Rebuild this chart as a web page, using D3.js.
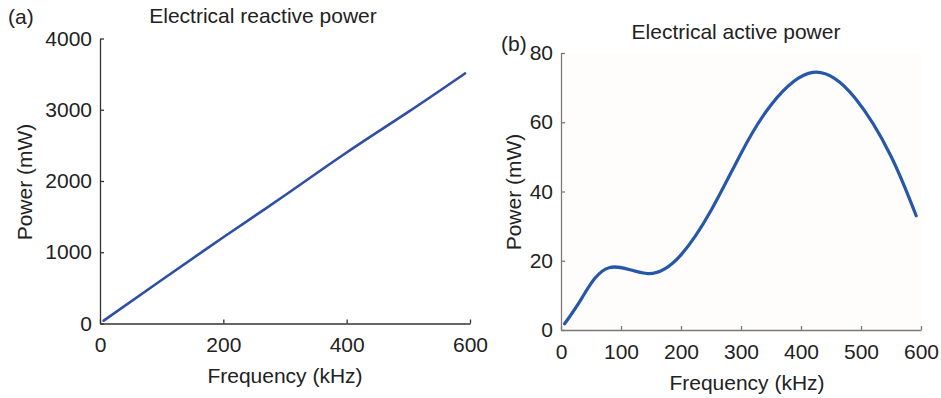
<!DOCTYPE html>
<html>
<head>
<meta charset="utf-8">
<script src="https://cdn.jsdelivr.net/npm/d3@7"></script>
<style>
  body { margin: 0; background: #fff; }
  text { font-family: "Liberation Sans", Arial, sans-serif; fill: #222; }
</style>
</head>
<body>
<script>
// panel (a): reactive power
var freqA = [6, 100, 200, 300, 400, 500, 592];
var powerA = [40, 610, 1210, 1800, 2400, 2970, 3510];
var xTicksA = [0, 200, 400, 600];
var yTicksA = [0, 1000, 2000, 3000, 4000];

// panel (b): active power
var freqB = [6, 35, 80, 145, 200, 250, 300, 350, 420, 490, 550, 592];
var powerB = [1.8, 9.3, 18.0, 16.3, 21.7, 34.5, 51, 65, 74.4, 67, 50.2, 33];
var xTicksB = [0, 100, 200, 300, 400, 500, 600];
var yTicksB = [0, 20, 40, 60, 80];

var svg = d3.select("body").append("svg")
	.attr("width", 941)
	.attr("height", 398);

function drawPanel(opt) {
	var x = d3.scaleLinear().domain([0, 600]).range(opt.xr);
	var y = d3.scaleLinear().domain(opt.ydom).range(opt.yr);
	var g = svg.append("g");

	if (opt.bg) {
		g.append("rect")
			.attr("x", opt.xr[0]).attr("y", opt.yr[1])
			.attr("width", opt.xr[1] - opt.xr[0])
			.attr("height", opt.yr[0] - opt.yr[1])
			.attr("fill", opt.bg);
	}

	// x axis, ticks pointing inward
	var xa = g.append("g")
		.attr("transform", "translate(0," + opt.yr[0] + ")")
		.call(d3.axisBottom(x).tickValues(opt.xticks).tickFormat(d3.format("d"))
			.tickSizeInner(-4).tickSizeOuter(0).tickPadding(9));
	var ya = g.append("g")
		.attr("transform", "translate(" + opt.xr[0] + ",0)")
		.call(d3.axisLeft(y).tickValues(opt.yticks).tickFormat(d3.format("d"))
			.tickSizeInner(-4).tickSizeOuter(0).tickPadding(8));

	[xa, ya].forEach(function(a) {
		a.select(".domain").attr("stroke", opt.axisColor).attr("stroke-width", 1.3);
		a.selectAll(".tick line").attr("stroke", opt.axisColor).attr("stroke-width", 1.3);
		a.selectAll(".tick text")
			.attr("font-size", 21)
			.attr("font-family", "Liberation Sans, Arial, sans-serif")
			.attr("fill", "#222");
	});
	xa.selectAll(".tick text").attr("dy", "0.95em");

	var line = d3.line()
		.x(function(d) { return x(d[0]); })
		.y(function(d) { return y(d[1]); })
		.curve(d3.curveNatural);

	g.append("path")
		.datum(d3.zip(opt.freq, opt.power))
		.attr("fill", "none")
		.attr("stroke", opt.lineColor)
		.attr("stroke-width", opt.lineWidth)
		.attr("stroke-linecap", "round")
		.attr("d", line);

	g.append("text")
		.attr("x", opt.title[0]).attr("y", opt.title[1])
		.attr("text-anchor", "middle")
		.attr("font-size", 21)
		.text(opt.titleText);

	g.append("text")
		.attr("x", opt.xlab[0]).attr("y", opt.xlab[1])
		.attr("text-anchor", "middle")
		.attr("font-size", 21)
		.text("Frequency (kHz)");

	g.append("text")
		.attr("transform", "translate(" + opt.ylab[0] + "," + opt.ylab[1] + ") rotate(-90)")
		.attr("text-anchor", "middle")
		.attr("font-size", 21)
		.text("Power (mW)");

	g.append("text")
		.attr("x", opt.tag[0]).attr("y", opt.tag[1])
		.attr("font-size", 21)
		.text(opt.tagText);
}

drawPanel({
	xr: [100, 470], yr: [323.5, 38.5], ydom: [0, 4000],
	xticks: xTicksA, yticks: yTicksA,
	freq: freqA, power: powerA,
	axisColor: "#333", lineColor: "#2f4fa4", lineWidth: 2.6,
	title: [263, 23], titleText: "Electrical reactive power",
	xlab: [285, 383], ylab: [32, 182],
	tag: [8, 24], tagText: "(a)"
});

drawPanel({
	xr: [561, 921], yr: [330, 53], ydom: [0, 80],
	xticks: xTicksB, yticks: yTicksB,
	freq: freqB, power: powerB,
	axisColor: "#7a7a7a", lineColor: "#2757a8", lineWidth: 3.2,
	bg: "#fefdfc",
	title: [736, 39], titleText: "Electrical active power",
	xlab: [747, 390], ylab: [521, 192],
	tag: [501, 51], tagText: "(b)"
});
</script>
</body>
</html>
